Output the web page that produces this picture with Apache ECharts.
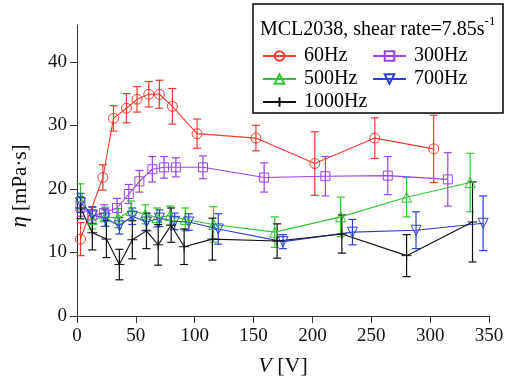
<!DOCTYPE html>
<html>
<head>
<meta charset="utf-8">
<script src="https://cdn.jsdelivr.net/npm/echarts@6/dist/echarts.min.js"></script>
<style>
  html, body { margin: 0; padding: 0; background: #fff; }
  #chart { width: 509px; height: 382px; }
</style>
</head>
<body>
<div id="chart"></div>
<script>
// voltage (V), viscosity (mPa·s) and error half-widths
const v60 = [3, 22, 31, 42, 51, 61, 70, 81, 102, 152, 202, 253, 303]
const eta60 = [12.1, 21.8, 31.1, 32.7, 34.1, 34.9, 34.9, 33.0, 28.7, 28.0, 24.0, 28.0, 26.3]
const err60 = [2.6, 2.0, 2.0, 2.3, 2.0, 2.0, 2.2, 2.8, 2.3, 2.0, 5.0, 3.2, 5.3]

const v300 = [3, 13, 23, 34, 44, 53, 64, 74, 84, 107, 159, 211, 264, 315]
const eta300 = [17.2, 15.8, 16.2, 17.0, 19.2, 21.2, 23.1, 23.4, 23.4, 23.4, 21.8, 22.0, 22.1, 21.5]
const err300 = [1.5, 1.3, 1.3, 1.5, 1.5, 1.7, 2.0, 1.7, 1.5, 1.8, 2.3, 3.1, 3.0, 4.2]

const v500 = [3, 13, 24, 35, 46, 58, 68, 79, 92, 116, 168, 224, 280, 334]
const eta500 = [18.8, 15.2, 15.6, 15.4, 16.6, 16.0, 15.5, 15.8, 15.2, 14.4, 13.2, 15.6, 18.7, 21.0]
const err500 = [2.0, 1.5, 1.5, 1.5, 1.5, 1.5, 1.5, 1.5, 1.8, 2.8, 2.4, 3.1, 3.1, 4.6]

const v700 = [3, 13, 24, 36, 47, 59, 70, 83, 95, 120, 175, 234, 288, 345]
const eta700 = [17.8, 15.9, 15.4, 14.2, 15.7, 14.8, 15.4, 14.9, 14.8, 13.7, 11.7, 13.2, 13.5, 14.6]
const err700 = [1.5, 1.3, 1.3, 1.3, 1.3, 1.3, 1.3, 1.3, 1.3, 2.4, 1.1, 2.0, 2.9, 4.3]

const v1000 = [3, 13, 25, 36, 47, 59, 69, 80, 91, 115, 170, 225, 280, 336]
const eta1000 = [17.0, 13.1, 12.1, 8.1, 12.0, 13.4, 11.2, 14.3, 10.9, 12.1, 11.8, 12.9, 9.5, 14.8]
const err1000 = [1.7, 2.7, 2.9, 2.4, 3.0, 2.8, 3.2, 2.7, 2.8, 3.3, 2.7, 3.0, 3.3, 6.3]

const xTicks = [0, 50, 100, 150, 200, 250, 300, 350]
const yTicks = [0, 10, 20, 30, 40]

const FONT = "Liberation Serif"

const chart = echarts.init(document.getElementById("chart"))

const groups = [
  { name: "60Hz", v: v60, eta: eta60, err: err60, color: "#f43b2c", symbol: "circle", rotate: 0 },
  { name: "300Hz", v: v300, eta: eta300, err: err300, color: "#9a42e8", symbol: "rect", rotate: 0 },
  { name: "500Hz", v: v500, eta: eta500, err: err500, color: "#2fc72f", symbol: "triangle", rotate: 0 },
  { name: "700Hz", v: v700, eta: eta700, err: err700, color: "#2b3fd4", symbol: "triangle", rotate: 180 },
  { name: "1000Hz", v: v1000, eta: eta1000, err: err1000, color: "#111111", symbol: "path://M0,-1L0,1M-1,0L1,0", rotate: 0 },
]

const series = []
groups.forEach(g => {
  series.push({
    name: g.name,
    type: "line",
    data: g.v.map((x, i) => [x, g.eta[i]]),
    symbol: g.symbol,
    symbolRotate: g.rotate,
    symbolSize: g.symbol === "rect" ? 9 : 10,
    showAllSymbol: true,
    lineStyle: { color: g.color, width: 1.1 },
    itemStyle: { color: "transparent", borderColor: g.color, borderWidth: 1 },
    emphasis: { disabled: true },
    z: 3,
  })
  // error bars
  series.push({
    name: g.name + " err",
    type: "custom",
    data: g.v.map((x, i) => [x, g.eta[i] - g.err[i], g.eta[i] + g.err[i]]),
    renderItem: (params, api) => {
      const lo = api.coord([api.value(0), api.value(1)])
      const hi = api.coord([api.value(0), api.value(2)])
      const w = 4
      const st = { stroke: g.color, lineWidth: 1.2 }
      return {
        type: "group",
        children: [
          { type: "line", shape: { x1: lo[0], y1: lo[1], x2: hi[0], y2: hi[1] }, style: st },
          { type: "line", shape: { x1: lo[0] - w, y1: lo[1], x2: lo[0] + w, y2: lo[1] }, style: st },
          { type: "line", shape: { x1: hi[0] - w, y1: hi[1], x2: hi[0] + w, y2: hi[1] }, style: st },
        ],
      }
    },
    encode: { x: 0, y: [1, 2] },
    silent: true,
    z: 2,
  })
})

const legendBase = {
  orient: "vertical",
  itemWidth: 33,
  itemHeight: 12,
  itemGap: 3,
  selectedMode: false,
  z: 10,
  textStyle: { fontFamily: FONT, fontSize: 20, color: "#000", padding: [0, 0, 0, 3] },
}

const option = {
  animation: false,
  backgroundColor: "#fff",
  grid: { left: 77, right: 20, top: 25, bottom: 63 },
  xAxis: {
    type: "value",
    min: 0,
    max: 350,
    interval: 50,
    axisLine: { show: true, lineStyle: { color: "#333", width: 1 } },
    axisTick: { show: true, length: 7, lineStyle: { color: "#333" } },
    axisLabel: { fontFamily: FONT, fontSize: 19, color: "#111", margin: 11,
      formatter: val => xTicks.includes(val) ? String(val) : "" },
    splitLine: { show: false },
    name: "{i|V} [V]",
    nameLocation: "middle",
    nameGap: 39,
    nameTextStyle: { fontFamily: FONT, fontSize: 22, color: "#111",
      rich: { i: { fontFamily: FONT, fontSize: 22, fontStyle: "italic", color: "#111" } } },
  },
  yAxis: {
    type: "value",
    min: 0,
    max: 45.8,
    interval: 10,
    axisLine: { show: true, lineStyle: { color: "#333", width: 1 } },
    axisTick: { show: true, length: 7, lineStyle: { color: "#333" }, customValues: yTicks },
    axisLabel: { fontFamily: FONT, fontSize: 19, color: "#111", margin: 10, customValues: yTicks },
    splitLine: { show: false },
  },
  legend: [
    Object.assign({}, legendBase, { left: 257, top: 41, data: ["60Hz", "500Hz", "1000Hz"] }),
    Object.assign({}, legendBase, { left: 367, top: 41, data: ["300Hz", "700Hz"] }),
  ],
  graphic: [
    {
      type: "rect",
      shape: { x: 253, y: 4, width: 250, height: 109 },
      style: { fill: "#fff", stroke: "#000", lineWidth: 1.5 },
      z: 5,
    },
    {
      type: "text",
      x: 260,
      y: 30,
      style: {
        text: "MCL2038, shear rate=7.85s{sup|-1}",
        fontFamily: FONT,
        fontSize: 20,
        fill: "#000",
        verticalAlign: "middle",
        rich: { sup: { fontFamily: FONT, fontSize: 13, verticalAlign: "bottom", padding: [0, 0, 16, 0] } },
      },
      z: 6,
    },
    {
      type: "text",
      x: 20,
      y: 186,
      rotation: Math.PI / 2,
      style: {
        text: "{i|η} [mPa·s]",
        fontFamily: FONT,
        fontSize: 21,
        fill: "#111",
        align: "center",
        verticalAlign: "middle",
        rich: { i: { fontFamily: FONT, fontSize: 23, fontStyle: "italic" } },
      },
    },
  ],
  series: series,
}

chart.setOption(option)
</script>
</body>
</html>
